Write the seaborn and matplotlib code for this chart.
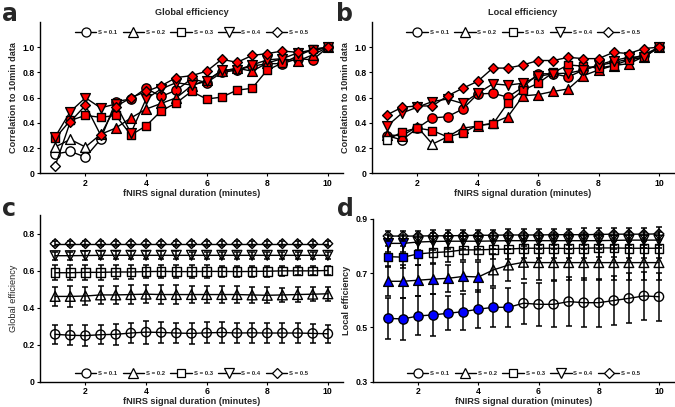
import numpy as np
import pandas as pd
import matplotlib
matplotlib.use("Agg")
import matplotlib.pyplot as plt
from matplotlib.lines import Line2D
from matplotlib.ticker import FuncFormatter
import seaborn as sns

sns.set_theme(style="ticks")
plt.rcParams['font.family'] = ['Liberation Sans', 'DejaVu Sans']

# ---------------- data ----------------
durations = [1, 1.5, 2, 2.5, 3, 3.5, 4, 4.5, 5, 5.5, 6, 6.5, 7, 7.5, 8, 8.5, 9, 9.5, 10]
series_labels = ["S = 0.1", "S = 0.2", "S = 0.3", "S = 0.4", "S = 0.5"]
series_markers = ["o", "^", "s", "v", "D"]

# Panel a: correlation to 10 min data, global efficiency
a_vals = {
    "S = 0.1": [0.155, 0.175, 0.13, 0.27, 0.57, 0.59, 0.675, 0.61, 0.66, 0.75, 0.72, 0.80, 0.82, 0.85, 0.87, 0.87, 0.91, 0.90, 1.0],
    "S = 0.2": [0.21, 0.27, 0.21, 0.31, 0.36, 0.44, 0.51, 0.555, 0.60, 0.695, 0.74, 0.81, 0.835, 0.81, 0.875, 0.91, 0.89, 0.94, 1.0],
    "S = 0.3": [0.28, 0.42, 0.46, 0.445, 0.46, 0.305, 0.377, 0.496, 0.56, 0.65, 0.59, 0.605, 0.66, 0.675, 0.82, 0.875, 0.93, 0.985, 1.0],
    "S = 0.4": [0.29, 0.49, 0.60, 0.52, 0.55, 0.32, 0.59, 0.67, 0.72, 0.70, 0.73, 0.82, 0.82, 0.86, 0.90, 0.91, 0.955, 0.98, 1.0],
    "S = 0.5": [0.06, 0.41, 0.54, 0.305, 0.53, 0.60, 0.65, 0.695, 0.76, 0.775, 0.81, 0.905, 0.88, 0.935, 0.95, 0.97, 0.96, 0.97, 1.0],
}
a_sig = {
    "S = 0.1": [0, 0, 0, 0, 1, 1, 1, 1, 1, 1, 1, 1, 1, 1, 1, 1, 1, 1, 1],
    "S = 0.2": [0, 0, 0, 1, 1, 1, 1, 1, 1, 1, 1, 1, 1, 1, 1, 1, 1, 1, 1],
    "S = 0.3": [1, 1, 1, 1, 1, 1, 1, 1, 1, 1, 1, 1, 1, 1, 1, 1, 1, 1, 1],
    "S = 0.4": [1, 1, 1, 1, 1, 1, 1, 1, 1, 1, 1, 1, 1, 1, 1, 1, 1, 1, 1],
    "S = 0.5": [0, 1, 1, 1, 1, 1, 1, 1, 1, 1, 1, 1, 1, 1, 1, 1, 1, 1, 1],
}

# Panel b: correlation to 10 min data, local efficiency
b_vals = {
    "S = 0.1": [0.30, 0.265, 0.36, 0.44, 0.45, 0.51, 0.63, 0.635, 0.605, 0.685, 0.79, 0.79, 0.765, 0.82, 0.855, 0.88, 0.905, 0.94, 1.0],
    "S = 0.2": [0.305, 0.30, 0.37, 0.233, 0.29, 0.36, 0.375, 0.40, 0.45, 0.615, 0.625, 0.65, 0.67, 0.775, 0.82, 0.855, 0.87, 0.925, 1.0],
    "S = 0.3": [0.265, 0.33, 0.36, 0.34, 0.29, 0.32, 0.385, 0.39, 0.56, 0.66, 0.715, 0.80, 0.86, 0.85, 0.835, 0.855, 0.90, 0.92, 1.0],
    "S = 0.4": [0.375, 0.48, 0.525, 0.57, 0.59, 0.555, 0.635, 0.71, 0.70, 0.715, 0.77, 0.79, 0.795, 0.82, 0.86, 0.895, 0.92, 0.925, 1.0],
    "S = 0.5": [0.465, 0.525, 0.535, 0.535, 0.615, 0.675, 0.73, 0.835, 0.835, 0.86, 0.895, 0.895, 0.92, 0.91, 0.91, 0.96, 0.95, 0.99, 1.0],
}
b_sig = {
    "S = 0.1": [1, 0, 1, 1, 1, 1, 1, 1, 1, 1, 1, 1, 1, 1, 1, 1, 1, 1, 1],
    "S = 0.2": [1, 1, 1, 0, 1, 1, 1, 1, 1, 1, 1, 1, 1, 1, 1, 1, 1, 1, 1],
    "S = 0.3": [0, 1, 1, 1, 1, 1, 1, 1, 1, 1, 1, 1, 1, 1, 1, 1, 1, 1, 1],
    "S = 0.4": [1, 1, 1, 1, 1, 1, 1, 1, 1, 1, 1, 1, 1, 1, 1, 1, 1, 1, 1],
    "S = 0.5": [1, 1, 1, 1, 1, 1, 1, 1, 1, 1, 1, 1, 1, 1, 1, 1, 1, 1, 1],
}

# Panel c: global efficiency mean and error
c_vals = {
    "S = 0.1": [0.255, 0.25, 0.248, 0.253, 0.255, 0.262, 0.267, 0.265, 0.262, 0.26, 0.263, 0.265, 0.262, 0.263, 0.262, 0.262, 0.262, 0.26, 0.258],
    "S = 0.2": [0.46, 0.46, 0.462, 0.468, 0.468, 0.47, 0.472, 0.47, 0.47, 0.47, 0.47, 0.47, 0.47, 0.468, 0.466, 0.468, 0.47, 0.472, 0.474],
    "S = 0.3": [0.588, 0.588, 0.59, 0.59, 0.592, 0.592, 0.594, 0.595, 0.594, 0.594, 0.595, 0.595, 0.594, 0.595, 0.596, 0.598, 0.598, 0.598, 0.60],
    "S = 0.4": [0.68, 0.68, 0.681, 0.682, 0.682, 0.682, 0.682, 0.682, 0.682, 0.682, 0.682, 0.682, 0.682, 0.682, 0.682, 0.682, 0.682, 0.682, 0.682],
    "S = 0.5": [0.745, 0.745, 0.745, 0.745, 0.745, 0.745, 0.745, 0.745, 0.745, 0.745, 0.745, 0.745, 0.745, 0.745, 0.745, 0.745, 0.745, 0.745, 0.745],
}
c_err = {
    "S = 0.1": [0.05, 0.055, 0.055, 0.05, 0.055, 0.055, 0.062, 0.058, 0.055, 0.058, 0.057, 0.057, 0.055, 0.055, 0.053, 0.052, 0.052, 0.05, 0.05],
    "S = 0.2": [0.05, 0.058, 0.05, 0.05, 0.05, 0.052, 0.05, 0.05, 0.05, 0.048, 0.046, 0.045, 0.045, 0.044, 0.043, 0.04, 0.04, 0.038, 0.038],
    "S = 0.3": [0.04, 0.04, 0.04, 0.04, 0.04, 0.038, 0.037, 0.036, 0.035, 0.034, 0.033, 0.032, 0.031, 0.03, 0.029, 0.027, 0.025, 0.024, 0.022],
    "S = 0.4": [0.022, 0.022, 0.022, 0.022, 0.022, 0.022, 0.021, 0.021, 0.021, 0.02, 0.02, 0.02, 0.02, 0.02, 0.019, 0.019, 0.018, 0.018, 0.018],
    "S = 0.5": [0.012, 0.012, 0.012, 0.012, 0.012, 0.012, 0.012, 0.012, 0.012, 0.012, 0.012, 0.012, 0.012, 0.012, 0.012, 0.012, 0.012, 0.012, 0.012],
}

# Panel d: local efficiency mean and error
d_vals = {
    "S = 0.1": [0.533, 0.531, 0.542, 0.546, 0.552, 0.558, 0.567, 0.574, 0.574, 0.589, 0.585, 0.585, 0.595, 0.591, 0.591, 0.599, 0.607, 0.616, 0.613],
    "S = 0.2": [0.67, 0.67, 0.674, 0.678, 0.681, 0.688, 0.686, 0.712, 0.73, 0.74, 0.739, 0.739, 0.739, 0.739, 0.739, 0.739, 0.739, 0.739, 0.739],
    "S = 0.3": [0.761, 0.759, 0.771, 0.776, 0.779, 0.786, 0.786, 0.788, 0.789, 0.792, 0.792, 0.792, 0.791, 0.792, 0.793, 0.793, 0.792, 0.792, 0.792],
    "S = 0.4": [0.81, 0.81, 0.815, 0.817, 0.818, 0.818, 0.818, 0.819, 0.82, 0.82, 0.82, 0.82, 0.82, 0.82, 0.82, 0.821, 0.822, 0.822, 0.822],
    "S = 0.5": [0.837, 0.837, 0.837, 0.838, 0.838, 0.839, 0.84, 0.84, 0.841, 0.841, 0.841, 0.842, 0.842, 0.842, 0.843, 0.844, 0.844, 0.844, 0.845],
}
d_err = {
    "S = 0.1": [0.075, 0.077, 0.072, 0.078, 0.062, 0.066, 0.07, 0.072, 0.072, 0.075, 0.08, 0.085, 0.09, 0.09, 0.088, 0.09, 0.092, 0.09, 0.088],
    "S = 0.2": [0.055, 0.06, 0.058, 0.055, 0.05, 0.052, 0.055, 0.058, 0.06, 0.062, 0.064, 0.066, 0.066, 0.066, 0.066, 0.066, 0.066, 0.066, 0.066],
    "S = 0.3": [0.04, 0.04, 0.04, 0.038, 0.038, 0.037, 0.037, 0.036, 0.036, 0.036, 0.036, 0.036, 0.036, 0.036, 0.035, 0.035, 0.035, 0.035, 0.035],
    "S = 0.4": [0.03, 0.03, 0.03, 0.03, 0.03, 0.03, 0.03, 0.03, 0.03, 0.03, 0.03, 0.03, 0.03, 0.03, 0.03, 0.03, 0.03, 0.03, 0.03],
    "S = 0.5": [0.02, 0.02, 0.02, 0.02, 0.02, 0.02, 0.02, 0.02, 0.022, 0.022, 0.022, 0.022, 0.022, 0.024, 0.024, 0.024, 0.024, 0.024, 0.024],
}
d_sig = {
    "S = 0.1": [1, 1, 1, 1, 1, 1, 1, 1, 1, 0, 0, 0, 0, 0, 0, 0, 0, 0, 0],
    "S = 0.2": [1, 1, 1, 1, 1, 1, 1, 0, 0, 0, 0, 0, 0, 0, 0, 0, 0, 0, 0],
    "S = 0.3": [1, 1, 1, 0, 0, 0, 0, 0, 0, 0, 0, 0, 0, 0, 0, 0, 0, 0, 0],
    "S = 0.4": [1, 1, 0, 0, 0, 0, 0, 0, 0, 0, 0, 0, 0, 0, 0, 0, 0, 0, 0],
    "S = 0.5": [0, 0, 0, 0, 0, 0, 0, 0, 0, 0, 0, 0, 0, 0, 0, 0, 0, 0, 0],
}
c_sig = {k: [0] * len(durations) for k in series_labels}

# ---------------- figure ----------------
W, H = 675, 407
fig = plt.figure(figsize=(W / 100, H / 100), dpi=100)

def px_axes(left, top, right, bottom):
    return fig.add_axes([left / W, 1 - bottom / H, (right - left) / W, (bottom - top) / H])

ax_a = px_axes(40, 22, 343, 173.5)
ax_b = px_axes(372, 22, 674, 173.5)
ax_c = px_axes(40, 215, 343, 381.5)
ax_d = px_axes(373, 219, 674, 381.5)

TICK_FS = 6.2
LAB_FS = 6.6

def draw_panel(ax, vals, sig, sig_color, ns_color, err=None, msize=45, lw=1.0):
    for i, lab in enumerate(series_labels):
        df = pd.DataFrame({"x": durations, "y": vals[lab], "sig": sig[lab]})
        z0 = 2 + i * 3
        sns.lineplot(data=df, x="x", y="y", ax=ax, color="black", lw=lw,
                     estimator=None, sort=False, zorder=z0)
        if err is not None:
            ax.errorbar(df["x"], df["y"], yerr=err[lab], fmt="none", ecolor="black",
                        elinewidth=1.1, capsize=2.3, capthick=1.1, zorder=z0 + 2)
        ns = df[df["sig"] == 0]
        ss = df[df["sig"] == 1]
        m = series_markers[i]
        s = msize * (0.55 if m == "D" else (1.1 if m in "^v" else (0.85 if m == "s" else 1.0)))
        if len(ns):
            sns.scatterplot(data=ns, x="x", y="y", ax=ax, marker=m, s=s, color=ns_color,
                            edgecolor="black", linewidth=1.0, zorder=z0 + 1, legend=False)
        if len(ss):
            sns.scatterplot(data=ss, x="x", y="y", ax=ax, marker=m, s=s, color=sig_color,
                            edgecolor="black", linewidth=1.0, zorder=z0 + 3, legend=False)

def style_axes(ax, ylim, yticks, ylabel, ylabel_weight="bold"):
    ax.set_xlim(0.5, 10.5)
    ax.set_ylim(*ylim)
    ax.set_xticks([2, 4, 6, 8, 10])
    ax.set_yticks(yticks)
    ax.yaxis.set_major_formatter(FuncFormatter(lambda v, p: "0" if abs(v) < 1e-9 else f"{v:.1f}"))
    ax.xaxis.set_major_formatter(FuncFormatter(lambda v, p: f"{v:g}"))
    sns.despine(ax=ax)
    for sp in ("left", "bottom"):
        ax.spines[sp].set_linewidth(1.0)
        ax.spines[sp].set_color("black")
    ax.tick_params(direction="out", length=2, width=0.8, pad=2, labelsize=TICK_FS, colors="black")
    for t in ax.get_xticklabels() + ax.get_yticklabels():
        t.set_fontweight("bold")
    ax.set_xlabel("fNIRS signal duration (minutes)", fontsize=LAB_FS, fontweight="bold", labelpad=1)
    ax.set_ylabel(ylabel, fontsize=LAB_FS, fontweight=ylabel_weight, labelpad=3)
    ax.set_facecolor("white")

def add_legend(ax, loc, anchor, msize):
    sizes = {"o": msize, "^": msize * 1.05, "s": msize * 0.92, "v": msize * 1.05, "D": msize * 0.75}
    handles = [Line2D([0], [0], color="black", lw=1.0, marker=m, markersize=sizes[m],
                      markerfacecolor="white", markeredgecolor="black", markeredgewidth=0.9)
               for m in series_markers]
    leg = ax.legend(handles, series_labels, loc=loc, bbox_to_anchor=anchor, ncol=5,
                    frameon=False, handlelength=3.6, handletextpad=0.3, columnspacing=0.9,
                    prop={"size": 4.3, "weight": "bold"}, borderaxespad=0)
    return leg

draw_panel(ax_a, a_vals, a_sig, "#ff0000", "white")
style_axes(ax_a, (0, 1.2), [0, 0.2, 0.4, 0.6, 0.8, 1.0], "Correlation to 10min data")
add_legend(ax_a, "center", (0.5, 0.93), 6.5)
ax_a.set_title("Global efficiency", fontsize=6.6, fontweight="bold", pad=5)

draw_panel(ax_b, b_vals, b_sig, "#ff0000", "white")
style_axes(ax_b, (0, 1.2), [0, 0.2, 0.4, 0.6, 0.8, 1.0], "Correlation to 10min data")
add_legend(ax_b, "center", (0.5, 0.93), 6.5)
ax_b.set_title("Local efficiency", fontsize=6.6, fontweight="bold", pad=5)

draw_panel(ax_c, c_vals, c_sig, "#0000ff", "none", err=c_err)
style_axes(ax_c, (0, 0.9), [0, 0.2, 0.4, 0.6, 0.8], "Global efficiency", ylabel_weight="normal")
add_legend(ax_c, "center", (0.5, 0.05), 6.5)

draw_panel(ax_d, d_vals, d_sig, "#0000ff", "none", err=d_err)
style_axes(ax_d, (0.3, 0.9), [0.3, 0.5, 0.7, 0.9], "Local efficiency")
add_legend(ax_d, "center", (0.5, 0.05), 6.5)

for txt, x, y in [("a", 2, 2), ("b", 336, 2), ("c", 2, 197), ("d", 337, 197)]:
    fig.text(x / W, 1 - y / H, txt, fontsize=17, fontweight="bold", ha="left", va="top",
             family=["DejaVu Sans"])

fig.savefig("out.png", dpi=100, facecolor="white")
